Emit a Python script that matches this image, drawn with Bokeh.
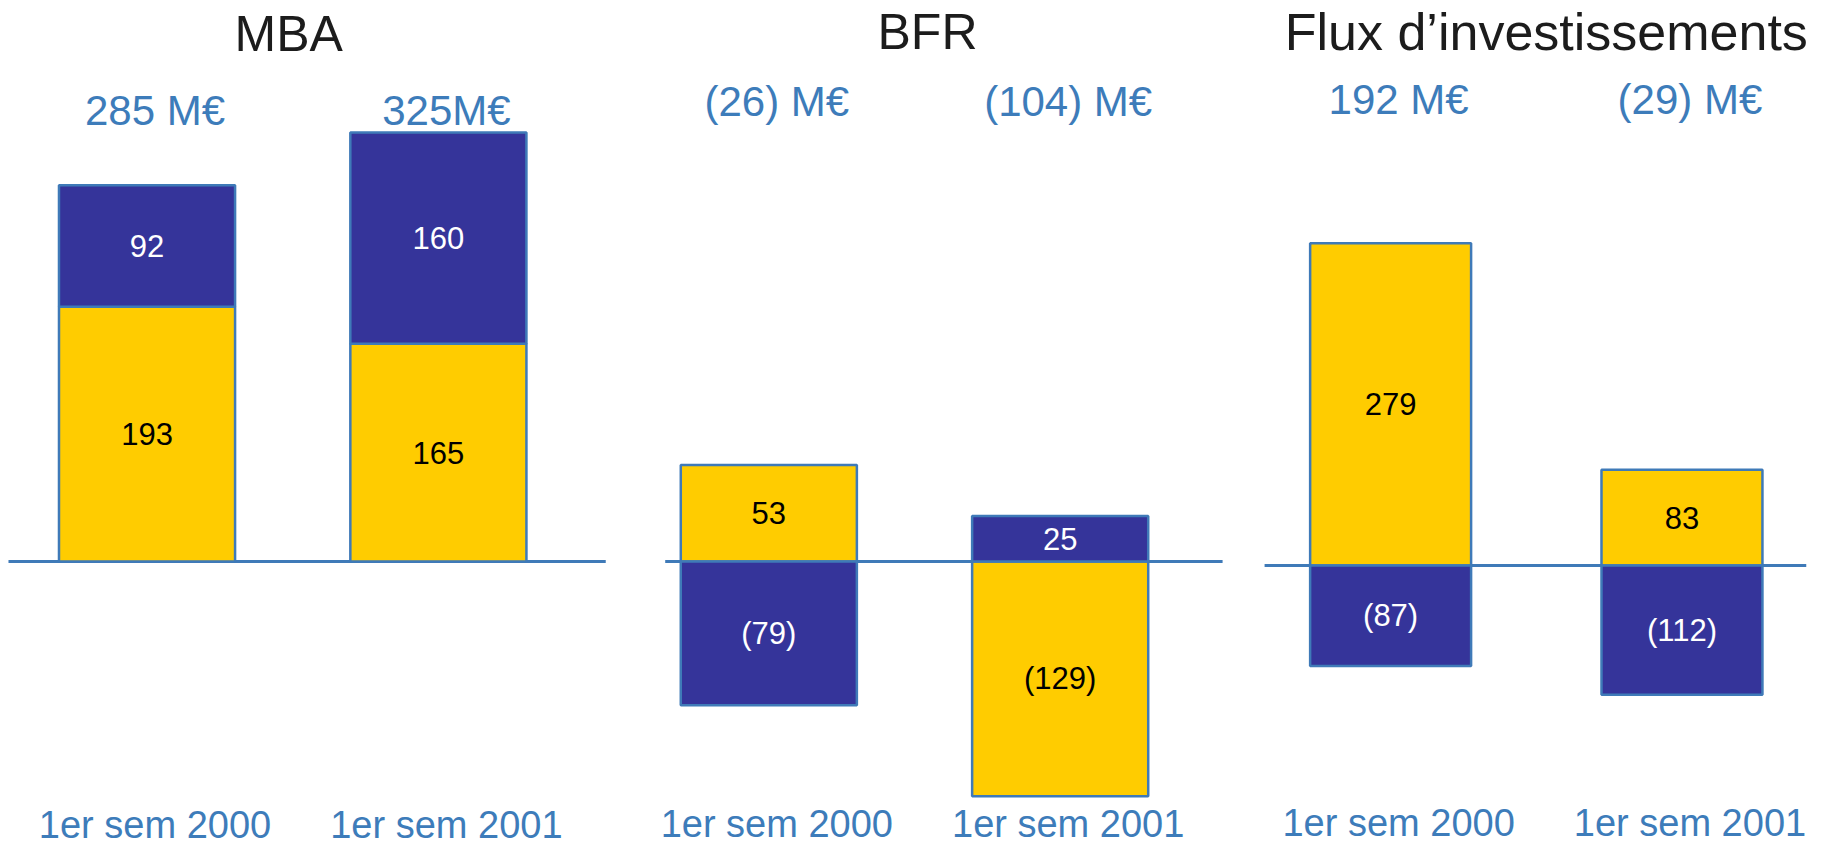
from bokeh.plotting import figure
from bokeh.models import FactorRange, Range1d, ColumnDataSource
from bokeh.core.properties import value
from bokeh.embed import file_html
from bokeh.resources import INLINE

# ---------------- data ----------------
panels = ["MBA", "BFR", "Flux d’investissements"]
periods = ["1er sem 2000", "1er sem 2001"]

mba_yellow = [193, 165]
mba_navy = [92, 160]
bfr_yellow = [53, -129]
bfr_navy = [-79, 25]
flux_yellow = [279, 83]
flux_navy = [-87, -112]

total_labels = ["285 M€", "325M€", "(26) M€", "(104) M€", "192 M€", "(29) M€"]

yellow_series = [mba_yellow, bfr_yellow, flux_yellow]
navy_series = [mba_navy, bfr_navy, flux_navy]

# ---------------- styles / layout ----------------
FONT = "Liberation Sans"
YELLOW = "#FFCC00"
NAVY = "#35349A"
EDGE = "#3F7AB8"
BLUE_TXT = "#3D7CBA"
TITLE_TXT = "#1C1C1C"

W, H = 1844, 845
FACTOR_PAD = 0.001
GROUP_PAD = 0.1353
# baseline (px from top) and px-per-unit of each panel
panel_keys = ["mba", "bfr", "flux"]
baselines = [561, 561, 565]
scales = [1.32, 1.82, 1.155]
bar_widths = [0.605, 0.605, 0.553]
line_offsets = [(-0.476, 0.575), (-0.356, 0.558), (-0.433, 0.427)]
# fixed-height texts (px from top) per panel, and title nudges
title_y = [33, 31, 31]
title_dx = [-4, 13, 10]
title_sizes = ["50px", "50px", "52px"]
total_y = [110, 101, 99]
period_y = [824, 823, 822]

factors = [(pn, pe) for pn in panels for pe in periods]

p = figure(width=W, height=H,
           x_range=FactorRange(*factors, factor_padding=FACTOR_PAD, group_padding=GROUP_PAD, range_padding=0),
           y_range=Range1d(start=H, end=0),
           output_backend="svg", toolbar_location=None,
           x_axis_location=None, y_axis_location=None,
           min_border=0, min_border_left=1, min_border_right=17)
p.grid.visible = False
p.outline_line_color = None
p.background_fill_color = "white"
p.border_fill_color = "white"

for key, b, s in zip(panel_keys, baselines, scales):
    p.extra_y_ranges[key] = Range1d(start=-(H - b) / s, end=b / s)


def fmt(v):
    return f"({abs(v)})" if v < 0 else f"{v}"


for i, (pn, key) in enumerate(zip(panels, panel_keys)):
    xs = [(pn, pe) for pe in periods]
    yv = yellow_series[i]
    nv = navy_series[i]
    nb = [y if (y > 0) == (n > 0) else 0 for y, n in zip(yv, nv)]
    nt = [b + n for b, n in zip(nb, nv)]

    ysrc = ColumnDataSource(dict(x=xs, bottom=[0, 0], top=yv,
                                 mid=[t / 2 for t in yv], text=[fmt(v) for v in yv]))
    nsrc = ColumnDataSource(dict(x=xs, bottom=nb, top=nt,
                                 mid=[(b + t) / 2 for b, t in zip(nb, nt)], text=[fmt(v) for v in nv]))

    # baseline
    lo, hi = line_offsets[i]
    p.segment(x0=[(pn, periods[0], lo)], x1=[(pn, periods[1], hi)], y0=[0], y1=[0],
              line_color=EDGE, line_width=3, y_range_name=key)

    for src, fill in ((ysrc, YELLOW), (nsrc, NAVY)):
        p.vbar(x="x", bottom="bottom", top="top", width=bar_widths[i], source=src,
               fill_color=fill, line_color=EDGE, line_width=2.5, y_range_name=key)

    p.text(x="x", y="mid", text="text", source=ysrc, y_range_name=key,
           text_font=value(FONT), text_font_size="31px", text_color="black",
           text_align="center", text_baseline="middle")
    p.text(x="x", y="mid", text="text", source=nsrc, y_range_name=key,
           text_font=value(FONT), text_font_size="31px", text_color="white",
           text_align="center", text_baseline="middle")

# totals above the bars and period labels below (pixel-like y range)
tsrc = ColumnDataSource(dict(x=factors, y=[total_y[i // 2] for i in range(len(factors))],
                             text=total_labels))
p.text(x="x", y="y", text="text", source=tsrc, text_font=value(FONT),
       text_font_size="42px", text_color=BLUE_TXT, text_align="center",
       text_baseline="middle", x_offset=8)

csrc = ColumnDataSource(dict(x=factors, y=[period_y[i // 2] for i in range(len(factors))],
                             text=[f[1] for f in factors]))
p.text(x="x", y="y", text="text", source=csrc, text_font=value(FONT),
       text_font_size="38px", text_color=BLUE_TXT, text_align="center",
       text_baseline="middle", x_offset=8)

# panel titles, centred between the two bars of each panel
half = (1 + FACTOR_PAD) / 2
ttl = ColumnDataSource(dict(x=[(pn, periods[0], half) for pn in panels],
                            y=title_y, text=panels, size=title_sizes, dx=title_dx))
p.text(x="x", y="y", text="text", source=ttl, text_font=value(FONT),
       text_font_size="size", text_color=TITLE_TXT, text_align="center",
       text_baseline="middle", x_offset="dx")

open("out.html", "w").write(file_html(p, INLINE))
